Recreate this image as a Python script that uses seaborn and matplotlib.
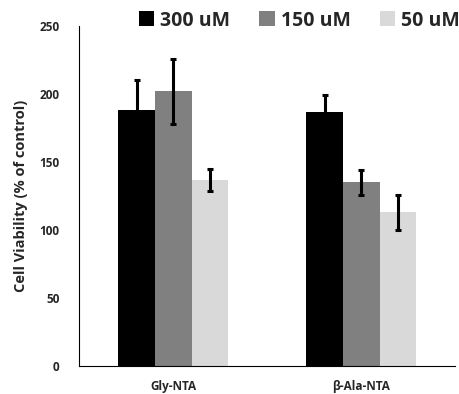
import pandas as pd
import matplotlib.pyplot as plt
import seaborn as sns

# chart data
compounds = ["Gly-NTA", "β-Ala-NTA"]
doses = ["300 uM", "150 uM", "50 uM"]
viability_300 = [188, 187]
viability_150 = [202, 135]
viability_50 = [137, 113]
err_300 = [22, 12]
err_150 = [24, 9]
err_50 = [8, 13]

colors = ["#000000", "#808080", "#d9d9d9"]

rows = []
for dose, vals, errs in zip(doses, [viability_300, viability_150, viability_50], [err_300, err_150, err_50]):
    for comp, v, e in zip(compounds, vals, errs):
        rows.append({"compound": comp, "dose": dose, "viability": v, "err": e})
df = pd.DataFrame(rows)

sns.set_style("white")
plt.rcParams['font.family'] = ['Open Sans', 'DejaVu Sans']

fig = plt.figure(figsize=(4.6, 3.94), dpi=100)
ax = fig.add_axes([0.172, 0.071, 0.818, 0.863])

sns.barplot(data=df, x="compound", y="viability", hue="dose", order=compounds,
            hue_order=doses, palette=colors, errorbar=None, width=0.585,
            saturation=1, linewidth=0, ax=ax)

# error bars on each bar (upper/lower whiskers from the table)
for cont, dose in zip(ax.containers, doses):
    sub = df[df["dose"] == dose].set_index("compound").loc[compounds]
    xs = [p.get_x() + p.get_width() / 2 for p in cont.patches]
    ax.errorbar(xs, sub["viability"], yerr=sub["err"], fmt="none", ecolor="black",
                elinewidth=2.2, capsize=2.5, capthick=2.2)

ax.set_xlim(-0.5, 1.5)
ax.set_ylim(0, 250)
ax.set_yticks([0, 50, 100, 150, 200, 250])
ax.set_xlabel("")
ax.set_ylabel("Cell Viability (% of control)", fontsize=10.5, fontweight="bold")
ax.yaxis.set_label_coords(-0.137, 0.5)
ax.tick_params(axis="both", length=0, labelsize=8.5)
ax.tick_params(axis="x", pad=10)
ax.tick_params(axis="y", pad=14)
for lbl in ax.get_xticklabels() + ax.get_yticklabels():
    lbl.set_fontweight("bold")

sns.despine(ax=ax)
ax.spines["left"].set_color("black")
ax.spines["bottom"].set_color("black")
ax.spines["left"].set_linewidth(0.8)
ax.spines["bottom"].set_linewidth(0.8)

leg = ax.legend(loc="lower center", bbox_to_anchor=(0.585, 0.935), ncol=3, frameon=False,
                handlelength=0.8, handleheight=0.8, handletextpad=0.3, columnspacing=1.5,
                prop={"size": 14, "weight": "bold"})

fig.savefig("out.png", dpi=100)
